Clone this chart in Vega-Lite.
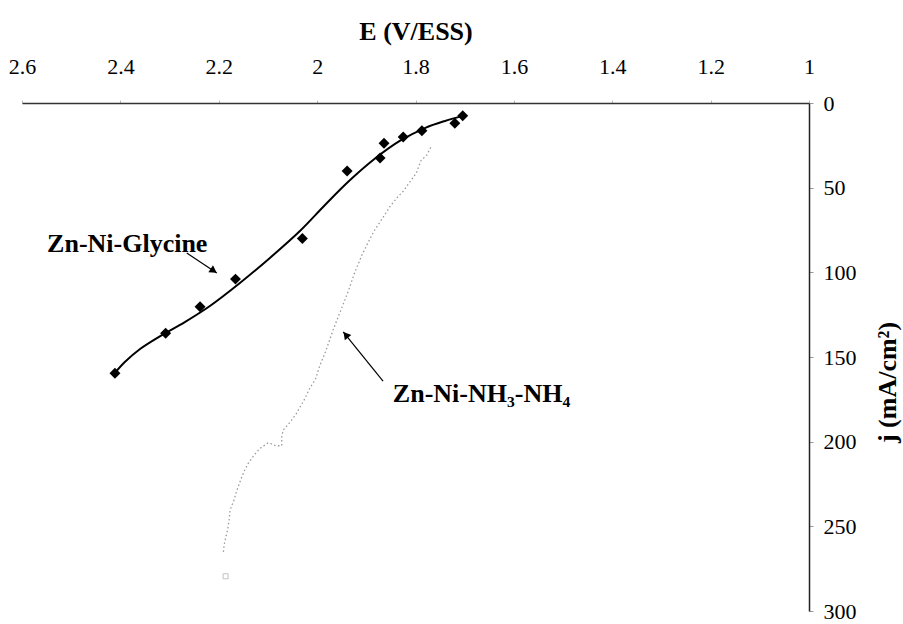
{
  "$schema": "https://vega.github.io/schema/vega-lite/v6.json",
  "width": 787,
  "height": 508,
  "autosize": {"type": "none"},
  "padding": {"left": 22, "top": 103, "right": 94, "bottom": 13},
  "background": "white",
  "config": {"view": {"stroke": null}, "font": "Liberation Serif"},
  "datasets": {
    "glyPts": [
      {"E": 1.704, "j": 7.5}, {"E": 1.72, "j": 12}, {"E": 1.787, "j": 16.4}, {"E": 1.825, "j": 20.1},
      {"E": 1.864, "j": 23.8}, {"E": 1.872, "j": 32.5}, {"E": 1.939, "j": 40.2}, {"E": 2.03, "j": 80},
      {"E": 2.166, "j": 104}, {"E": 2.238, "j": 120.3}, {"E": 2.308, "j": 136}, {"E": 2.411, "j": 159.6}
    ],
    "glyFit": [
      {"i": 1, "E": 2.411, "j": 159.4}, {"i": 2, "E": 2.391, "j": 153.0}, {"i": 3, "E": 2.36, "j": 145.3},
      {"i": 4, "E": 2.319, "j": 137.7}, {"i": 5, "E": 2.269, "j": 129.4}, {"i": 6, "E": 2.218, "j": 119.9},
      {"i": 7, "E": 2.157, "j": 106.3}, {"i": 8, "E": 2.096, "j": 91.5}, {"i": 9, "E": 2.035, "j": 75.6},
      {"i": 10, "E": 1.984, "j": 60.2}, {"i": 11, "E": 1.933, "j": 45.5}, {"i": 12, "E": 1.881, "j": 32.5},
      {"i": 13, "E": 1.832, "j": 22.4}, {"i": 14, "E": 1.781, "j": 14.8}, {"i": 15, "E": 1.74, "j": 10.6},
      {"i": 16, "E": 1.703, "j": 7.6}
    ],
    "nh": [
      {"i": 1, "E": 1.769, "j": 26.2}, {"i": 2, "E": 1.777, "j": 30.7}, {"i": 3, "E": 1.789, "j": 34.1},
      {"i": 4, "E": 1.798, "j": 41.2}, {"i": 5, "E": 1.811, "j": 46.5}, {"i": 6, "E": 1.825, "j": 52.1},
      {"i": 7, "E": 1.837, "j": 55.7}, {"i": 8, "E": 1.852, "j": 61.2}, {"i": 9, "E": 1.865, "j": 67.1},
      {"i": 10, "E": 1.882, "j": 74.6}, {"i": 11, "E": 1.891, "j": 79.3}, {"i": 12, "E": 1.909, "j": 89.8},
      {"i": 13, "E": 1.925, "j": 101.2}, {"i": 14, "E": 1.937, "j": 111.4}, {"i": 15, "E": 1.967, "j": 133.6},
      {"i": 16, "E": 1.983, "j": 146.9}, {"i": 17, "E": 1.994, "j": 154.7}, {"i": 18, "E": 2.004, "j": 163.6},
      {"i": 19, "E": 2.014, "j": 167.9}, {"i": 20, "E": 2.025, "j": 174.6}, {"i": 21, "E": 2.042, "j": 183.3},
      {"i": 22, "E": 2.054, "j": 188.2}, {"i": 23, "E": 2.069, "j": 193.1}, {"i": 24, "E": 2.072, "j": 197.1},
      {"i": 25, "E": 2.072, "j": 202.4}, {"i": 26, "E": 2.084, "j": 202.4}, {"i": 27, "E": 2.099, "j": 200.6},
      {"i": 28, "E": 2.116, "j": 203.9}, {"i": 29, "E": 2.128, "j": 207.9}, {"i": 30, "E": 2.14, "j": 212.8},
      {"i": 31, "E": 2.147, "j": 216.7}, {"i": 32, "E": 2.153, "j": 220.7}, {"i": 33, "E": 2.158, "j": 224.6},
      {"i": 34, "E": 2.164, "j": 229.5}, {"i": 35, "E": 2.169, "j": 234.5}, {"i": 36, "E": 2.177, "j": 240.4},
      {"i": 37, "E": 2.179, "j": 246.3}, {"i": 38, "E": 2.182, "j": 252.2}, {"i": 39, "E": 2.185, "j": 255.7},
      {"i": 40, "E": 2.189, "j": 261.0}, {"i": 41, "E": 2.191, "j": 266.3}
    ],
    "nhEnd": [{"E": 2.186, "j": 279.5}],
    "labels": [
      {"E": 2.549, "j": 88, "label": "Zn-Ni-Glycine"},
      {"E": 1.846, "j": 176.4, "label": "Zn-Ni-NH₃-NH₄"}
    ],
    "arrows": [
      {"E": 2.265, "j": 88.6, "E2": 2.204, "j2": 100.4, "Eh": 2.2103, "jh": 99.1, "ang": 123.7},
      {"E": 1.866, "j": 164.2, "E2": 1.947, "j2": 135.1, "Eh": 1.9417, "jh": 136.9, "ang": 321.3}
    ]
  },
  "encoding": {
    "x": {
      "field": "E", "type": "quantitative",
      "scale": {"domain": [1, 2.6], "reverse": true, "nice": false, "zero": false},
      "axis": {
        "orient": "top", "title": "E (V/ESS)", "values": [2.6, 2.4, 2.2, 2, 1.8, 1.6, 1.4, 1.2, 1],
        "format": "~g", "grid": false, "labelFontSize": 22, "labelColor": "black", "labelFlush": false,
        "tickSize": 3, "tickColor": "#bbb", "domainColor": "#333", "domainWidth": 1.5,
        "labelPadding": 22, "titleFontSize": 26, "titleFontWeight": "bold", "titleColor": "black",
        "titlePadding": 11
      }
    },
    "y": {
      "field": "j", "type": "quantitative",
      "scale": {"domain": [0, 300], "reverse": true, "nice": false, "zero": true},
      "axis": {
        "orient": "right", "title": "j (mA/cm²)", "values": [0, 50, 100, 150, 200, 250, 300],
        "grid": false, "labelFontSize": 22, "labelColor": "black", "labelFlush": false,
        "tickSize": 4, "tickColor": "#999", "domainColor": "#222", "domainWidth": 1.5,
        "labelPadding": 10, "titleFontSize": 26, "titleFontWeight": "bold", "titleColor": "black",
        "titleAngle": 270, "titleX": 78, "titleY": 279, "titleAlign": "center", "titleBaseline": "middle"
      }
    }
  },
  "layer": [
    {
      "mark": {"type": "rule", "color": "#bbb", "strokeDash": [2, 6], "strokeWidth": 1.2},
      "encoding": {
        "x": {"datum": 2.6, "type": "quantitative"},
        "x2": {"datum": 1},
        "y": {"datum": 300, "type": "quantitative"}
      }
    },
    {
      "data": {"name": "nh"},
      "mark": {"type": "line", "color": "#9a9a9a", "strokeWidth": 1.3, "strokeDash": [1.5, 2.5]},
      "encoding": {"order": {"field": "i", "type": "quantitative"}}
    },
    {
      "data": {"name": "nhEnd"},
      "mark": {"type": "point", "shape": "square", "size": 25, "color": "#aaa", "strokeWidth": 1, "filled": false}
    },
    {
      "data": {"name": "glyFit"},
      "mark": {"type": "line", "color": "black", "strokeWidth": 2, "interpolate": "catmull-rom"},
      "encoding": {"order": {"field": "i", "type": "quantitative"}}
    },
    {
      "data": {"name": "glyPts"},
      "mark": {"type": "point", "shape": "diamond", "size": 120, "filled": true, "color": "black", "opacity": 1}
    },
    {
      "data": {"name": "arrows"},
      "mark": {"type": "rule", "color": "black", "strokeWidth": 1.2},
      "encoding": {
        "x2": {"field": "E2"},
        "y2": {"field": "j2"}
      }
    },
    {
      "data": {"name": "arrows"},
      "mark": {"type": "point", "shape": "triangle-up", "size": 70, "filled": true, "color": "black", "opacity": 1},
      "encoding": {
        "x": {"field": "Eh", "type": "quantitative"},
        "y": {"field": "jh", "type": "quantitative"},
        "angle": {"field": "ang", "type": "quantitative", "scale": null}
      }
    },
    {
      "data": {"name": "labels"},
      "mark": {"type": "text", "align": "left", "baseline": "alphabetic", "fontSize": 26, "fontWeight": "bold", "color": "black", "font": "Liberation Serif"},
      "encoding": {"text": {"field": "label"}}
    }
  ]
}
